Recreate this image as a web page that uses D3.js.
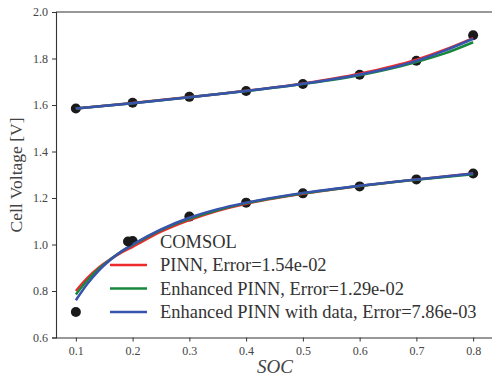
<!DOCTYPE html>
<html><head><meta charset="utf-8">
<script src="https://cdn.jsdelivr.net/npm/d3@7"></script>
<style>body{margin:0;background:#fff}svg{display:block}text{font-family:"Liberation Serif",serif}</style>
</head><body><svg id="c" width="492" height="377"></svg>
<script>
const socPts = [0.1,0.2,0.3,0.4,0.5,0.6,0.7,0.8];
const comsolUpper = [1.585,1.610,1.635,1.660,1.690,1.730,1.790,1.900];
const comsolLower = [0.710,1.015,1.120,1.180,1.220,1.250,1.280,1.305];

const socUpper = [0.1,0.2,0.3,0.4,0.5,0.6,0.7,0.75,0.8];
const pinnUpper = [1.585,1.609,1.634,1.661,1.693,1.735,1.795,1.838,1.888];
const enhUpper  = [1.585,1.608,1.633,1.660,1.690,1.728,1.785,1.822,1.870];
const dataUpper = [1.585,1.608,1.633,1.660,1.691,1.731,1.790,1.834,1.885];

const socLower = [0.1,0.12,0.14,0.16,0.18,0.2,0.25,0.3,0.35,0.4,0.5,0.6,0.7,0.8];
const pinnLower = [0.800,0.855,0.900,0.935,0.965,0.990,1.055,1.105,1.145,1.175,1.218,1.252,1.280,1.305];
const enhLower  = [0.785,0.845,0.895,0.935,0.970,0.998,1.062,1.110,1.148,1.178,1.220,1.252,1.279,1.302];
const dataLower = [0.760,0.830,0.887,0.932,0.970,1.000,1.065,1.115,1.152,1.180,1.222,1.253,1.280,1.305];

const xTicks = [0.1,0.2,0.3,0.4,0.5,0.6,0.7,0.8];
const yTicks = [0.6,0.8,1.0,1.2,1.4,1.6,1.8,2.0];
const seriesNames = ["PINN, Error=1.54e-02","Enhanced PINN, Error=1.29e-02","Enhanced PINN with data, Error=7.86e-03"];
const seriesColors = ["#ec2a2e","#17873c","#3853ab"];

const svg = d3.select("#c");
const x = d3.scaleLinear().domain([0.065,0.835]).range([56,493]);
const y = d3.scaleLinear().domain([0.6,2.0]).range([337.5,12]);
const axisCol = "#333";

function fit(sel, w){
  const fs = parseFloat(sel.style("font-size"));
  sel.style("font-size",(fs*w/sel.node().getComputedTextLength()).toFixed(2)+"px");
}

svg.append("line").attr("x1",56).attr("x2",493).attr("y1",12).attr("y2",12).attr("stroke",axisCol).attr("stroke-width",1.1);

const gx = svg.append("g").attr("transform","translate(0,337.5)")
  .call(d3.axisBottom(x).tickValues(xTicks).tickFormat(d3.format(".1f")).tickSize(4).tickPadding(5));
const gy = svg.append("g").attr("transform","translate(56,0)")
  .call(d3.axisLeft(y).tickValues(yTicks).tickFormat(d3.format(".1f")).tickSize(4).tickPadding(4));
[gx,gy].forEach(g=>{
  g.select(".domain").attr("stroke",axisCol).attr("stroke-width",1.1);
  g.selectAll(".tick line").attr("stroke",axisCol).attr("stroke-width",1);
  g.selectAll(".tick text").attr("fill","#444").style("font-size","12px").style("font-family","Liberation Serif, serif");
});
gx.select(".domain").attr("d","M56,0.5H493");

const xl = svg.append("text").attr("x",275).attr("y",373).attr("text-anchor","middle")
  .style("font-size","15px").style("font-style","italic").attr("fill","#444").text("SOC");
fit(xl,36);
const yl = svg.append("text").attr("transform","translate(22,175) rotate(-90)").attr("text-anchor","middle")
  .style("font-size","15px").attr("fill","#444").text("Cell Voltage [V]");
fit(yl,115);

const dots = socPts.map((s,i)=>[s,comsolUpper[i]]).concat(socPts.map((s,i)=>[s,comsolLower[i]]));
svg.append("g").selectAll("circle").data(dots).join("circle")
  .attr("cx",d=>x(d[0])).attr("cy",d=>y(d[1])).attr("r",5).attr("fill","#1a1a1a");

const line = d3.line().x(d=>x(d[0])).y(d=>y(d[1])).curve(d3.curveMonotoneX);
const upper = [pinnUpper,enhUpper,dataUpper];
const lower = [pinnLower,enhLower,dataLower];
for (let k=0;k<3;k++){
  svg.append("path").datum(socUpper.map((s,i)=>[s,upper[k][i]])).attr("d",line)
    .attr("fill","none").attr("stroke",seriesColors[k]).attr("stroke-width",2.5);
  svg.append("path").datum(socLower.map((s,i)=>[s,lower[k][i]])).attr("d",line)
    .attr("fill","none").attr("stroke",seriesColors[k]).attr("stroke-width",2.5);
}

const lg = svg.append("g");
const ly0 = 241.5, ldy = 23.5;
lg.append("circle").attr("cx",128).attr("cy",ly0).attr("r",5).attr("fill","#1a1a1a");
const texts = [lg.append("text").attr("x",160).attr("y",ly0).attr("dy","0.35em").style("font-size","15px").attr("fill","#333").text("COMSOL")];
seriesNames.forEach((n,i)=>{
  const yy = ly0 + ldy*(i+1);
  lg.append("line").attr("x1",110).attr("x2",147).attr("y1",yy).attr("y2",yy).attr("stroke",seriesColors[i]).attr("stroke-width",2.5);
  texts.push(lg.append("text").attr("x",160).attr("y",yy).attr("dy","0.35em").style("font-size","15px").attr("fill","#333").text(n));
});
const last = texts[3];
const fs0 = parseFloat(last.style("font-size"));
const newFs = fs0*317/last.node().getComputedTextLength();
texts.forEach(t=>t.style("font-size",newFs.toFixed(2)+"px"));
</script></body></html>
